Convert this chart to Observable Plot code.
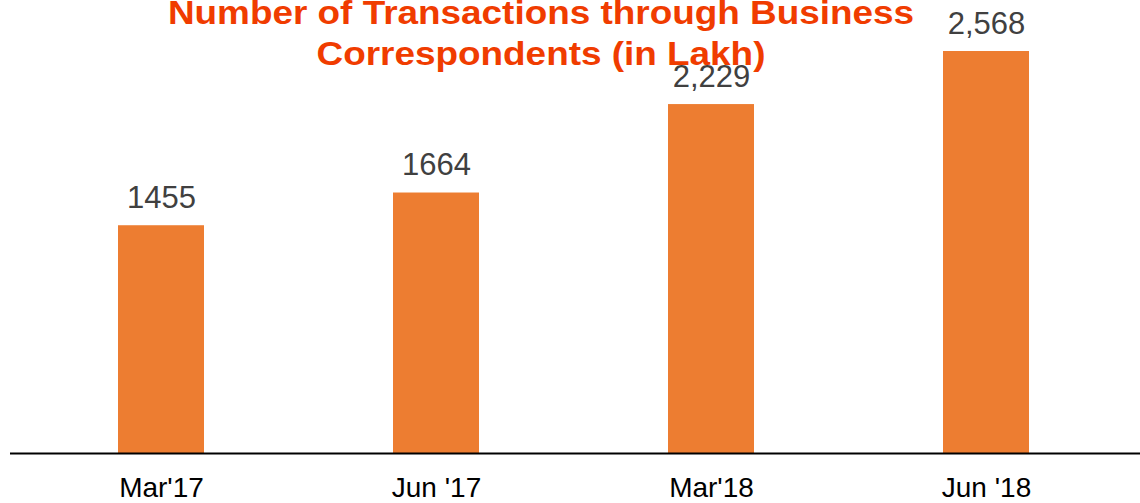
<!DOCTYPE html>
<html>
<head>
<meta charset="utf-8">
<script src="https://cdn.jsdelivr.net/npm/d3@7"></script>
<script src="https://cdn.jsdelivr.net/npm/@observablehq/plot@0.6"></script>
<style>
  html, body { margin: 0; padding: 0; background: #fff; }
  #wrap { position: relative; width: 1140px; height: 503px; overflow: hidden; font-family: "Liberation Sans", Arial, sans-serif; }
  #title { position: absolute; left: 0; top: 0; width: 1082px; text-align: center; color: #F03C00; font-weight: bold; font-size: 34px; line-height: 41px; z-index: 2; transform: scaleX(1.085); transform-origin: 541px 0; margin-top: -8px; white-space: nowrap; }
  #chart { position: absolute; left: 0; top: 0; }
</style>
</head>
<body>
<div id="wrap">
  <div id="chart"></div>
  <div id="title">Number of Transactions through Business<br>Correspondents (in Lakh)</div>
</div>
<script>
const categories = ["Mar'17", "Jun '17", "Mar'18", "Jun '18"];
const values = [1455, 1664, 2229, 2568];
const valueLabels = ["1455", "1664", "2,229", "2,568"];

const data = categories.map((c, i) => ({category: c, value: values[i], label: valueLabels[i]}));

const chart = Plot.plot({
  width: 1140,
  height: 503,
  marginTop: 51,
  marginBottom: 50,
  marginLeft: 10,
  marginRight: 0,
  style: {fontFamily: "'Liberation Sans', Arial, sans-serif", background: "transparent"},
  x: {domain: categories, range: [22, 1124], paddingInner: 0.688, paddingOuter: 0.344, label: null, tickSize: 0, tickPadding: 24},
  y: {domain: [0, 2568], axis: null, nice: false},
  marks: [
    Plot.barY(data, {x: "category", y: "value", fill: "#ED7D31"}),
    Plot.ruleY([0], {stroke: "#000", strokeWidth: 2}),
    Plot.text(data, {x: "category", y: "value", text: "label", lineAnchor: "bottom", dy: -18, fontSize: 31, fill: "#404040"}),
    Plot.axisX({tickSize: 0, tickPadding: 24, fontSize: 28, fill: "#000", label: null})
  ]
});
document.getElementById("chart").appendChild(chart);
</script>
</body>
</html>
